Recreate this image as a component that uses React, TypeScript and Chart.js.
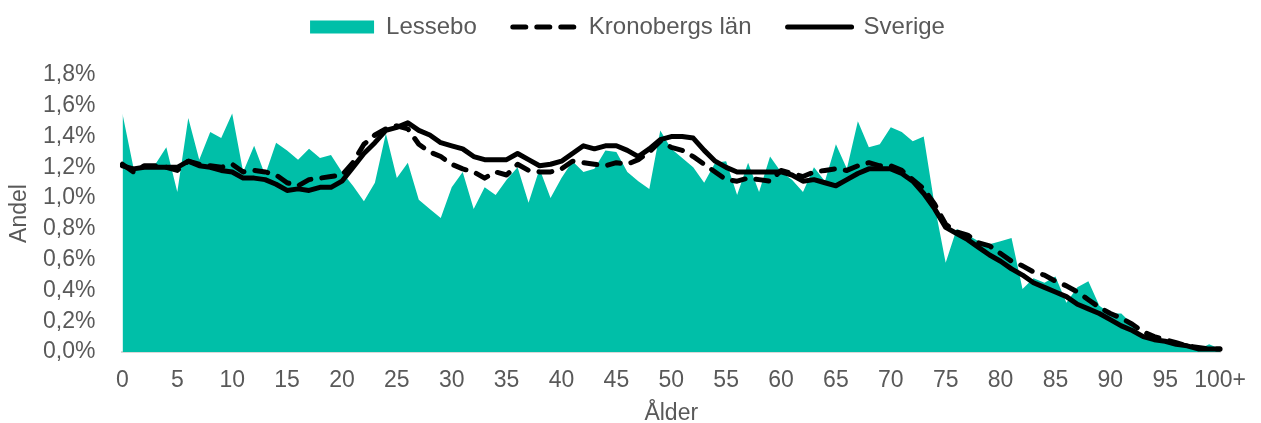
import React, { useEffect, useRef } from "react";
import { Chart, registerables } from "chart.js";

Chart.register(...registerables);

const ages: string[] = Array.from({ length: 101 }, (_, i) => (i === 100 ? "100+" : String(i)));

const lessebo: number[] = [
  1.55, 1.2, 1.2, 1.22, 1.33, 1.04, 1.52, 1.25, 1.43, 1.39,
  1.55, 1.17, 1.34, 1.15, 1.36, 1.31, 1.25, 1.32, 1.26, 1.28,
  1.17, 1.08, 0.98, 1.1, 1.42, 1.13, 1.23, 0.99, 0.93, 0.87,
  1.07, 1.17, 0.93, 1.07, 1.02, 1.12, 1.2, 0.97, 1.19, 1.0,
  1.13, 1.24, 1.17, 1.19, 1.31, 1.3, 1.17, 1.11, 1.06, 1.44,
  1.32, 1.26, 1.2, 1.1, 1.23, 1.24, 1.02, 1.23, 1.04, 1.27,
  1.17, 1.12, 1.04, 1.2, 1.11, 1.35, 1.19, 1.5, 1.33, 1.35,
  1.46, 1.43, 1.37, 1.4, 0.95, 0.58, 0.8, 0.76, 0.72, 0.7,
  0.72, 0.74, 0.41, 0.48, 0.45, 0.49, 0.32, 0.42, 0.46, 0.3,
  0.25, 0.25, 0.18, 0.09, 0.09, 0.08, 0.05, 0.03, 0.015, 0.05,
  0.02,
];

const kronoberg: number[] = [
  1.22, 1.17, 1.21, 1.21, 1.2, 1.18, 1.24, 1.22, 1.21, 1.2,
  1.22, 1.17, 1.18, 1.17, 1.15, 1.1, 1.08, 1.12, 1.13, 1.14,
  1.15, 1.23, 1.35, 1.41, 1.45, 1.47, 1.45, 1.35, 1.3, 1.27,
  1.22, 1.19, 1.17, 1.13, 1.17, 1.15, 1.22, 1.18, 1.17, 1.17,
  1.19, 1.24, 1.23, 1.22, 1.21, 1.23, 1.22, 1.25, 1.3, 1.37,
  1.33, 1.31, 1.27, 1.22, 1.17, 1.12, 1.11, 1.13, 1.12, 1.11,
  1.18, 1.16, 1.14, 1.17, 1.18, 1.19, 1.18, 1.21, 1.23, 1.21,
  1.21, 1.18, 1.12, 1.06, 0.96, 0.83, 0.78, 0.76, 0.71, 0.69,
  0.64, 0.59, 0.56, 0.52, 0.5, 0.46, 0.43, 0.39, 0.34, 0.29,
  0.25, 0.22, 0.18, 0.13, 0.1, 0.08, 0.06, 0.04, 0.03, 0.02,
  0.02,
];

const sverige: number[] = [
  1.21, 1.19, 1.2, 1.2, 1.2, 1.2, 1.24, 1.21, 1.2, 1.18,
  1.17, 1.13, 1.13, 1.12, 1.09, 1.05, 1.06, 1.05, 1.07, 1.07,
  1.11, 1.2, 1.29, 1.36, 1.44, 1.46, 1.49, 1.44, 1.41, 1.36,
  1.34, 1.32, 1.27, 1.25, 1.25, 1.25, 1.29, 1.25, 1.21, 1.22,
  1.24, 1.29, 1.34, 1.32, 1.34, 1.34, 1.31, 1.27, 1.32, 1.38,
  1.4, 1.4, 1.39, 1.31, 1.24, 1.2, 1.17, 1.17, 1.17, 1.17,
  1.17, 1.15, 1.11, 1.12, 1.1, 1.08, 1.12, 1.16, 1.19, 1.19,
  1.19, 1.16, 1.11, 1.03, 0.93, 0.81, 0.77, 0.73, 0.68, 0.63,
  0.59, 0.54, 0.5, 0.45, 0.42, 0.39, 0.36, 0.31, 0.28, 0.25,
  0.21, 0.17, 0.14, 0.1, 0.08, 0.07, 0.05, 0.04, 0.02, 0.02,
  0.02,
];

const seriesNames: string[] = ["Lessebo", "Kronobergs län", "Sverige"];
const yTicks: number[] = [0, 0.2, 0.4, 0.6, 0.8, 1.0, 1.2, 1.4, 1.6, 1.8];

const TEAL = "#00BFA8";
const TEXT = "#595959";
const FONT = "'Liberation Sans', Arial, sans-serif";

const legendSpacer = {
  id: "legendSpacer",
  beforeInit(chart: any) {
    const legend = chart.legend;
    if (!legend) return;
    const orig = legend.fit;
    legend.fit = function () {
      orig.call(this);
      this.height += 26;
    };
  },
  afterLayout(chart: any) {
    const legend = chart.legend;
    if (!legend) return;
    legend.left = -3;
    legend.right = chart.width - 3;
    legend.width = chart.width;
  },
};

export default function App() {
  const ref = useRef<HTMLCanvasElement | null>(null);

  useEffect(() => {
    if (!ref.current) return;
    const chart = new Chart(ref.current, {
      type: "line",
      data: {
        labels: ages,
        datasets: [
          {
            label: seriesNames[0],
            data: lessebo,
            fill: "origin",
            backgroundColor: TEAL,
            borderColor: TEAL,
            borderWidth: 0,
            pointRadius: 0,
            tension: 0,
            order: 3,
          },
          {
            label: seriesNames[1],
            data: kronoberg,
            fill: false,
            backgroundColor: "#000000",
            borderColor: "#000000",
            borderWidth: 5,
            borderDash: [13, 11],
            borderCapStyle: "round",
            borderJoinStyle: "round",
            pointRadius: 0,
            tension: 0,
            order: 2,
          },
          {
            label: seriesNames[2],
            data: sverige,
            fill: false,
            backgroundColor: "#000000",
            borderColor: "#000000",
            borderWidth: 5,
            borderCapStyle: "round",
            borderJoinStyle: "round",
            pointRadius: 0,
            tension: 0,
            order: 1,
          },
        ],
      },
      options: {
        responsive: false,
        animation: false,
        layout: { padding: { top: -21, right: 29, left: 0, bottom: 0 } },
        plugins: {
          tooltip: { enabled: false },
          legend: {
            position: "top",
            align: "center",
            labels: {
              usePointStyle: true,
              pointStyleWidth: 64,
              boxHeight: 13,
              padding: 36,
              color: TEXT,
              font: { family: FONT, size: 24 },
              generateLabels: (c: any) =>
                c.data.datasets.map((ds: any, i: number) => ({
                  text: ds.label,
                  fillStyle: ds.backgroundColor,
                  strokeStyle: ds.borderColor,
                  lineWidth: ds.borderWidth,
                  lineDash: ds.borderDash || [],
                  lineCap: ds.borderCapStyle || "butt",
                  lineJoin: "round",
                  pointStyle: i === 0 ? "rect" : "line",
                  hidden: false,
                  fontColor: TEXT,
                  datasetIndex: i,
                })),
            },
          },
        },
        scales: {
          x: {
            offset: false,
            grid: { display: false, drawTicks: false },
            border: { display: true, color: "#D9D9D9", width: 2 },
            ticks: {
              autoSkip: false,
              maxRotation: 0,
              minRotation: 0,
              padding: 15,
              color: TEXT,
              font: { family: FONT, size: 23 },
              callback: function (this: any, value: any, index: number) {
                return index % 5 === 0 ? ages[index] : null;
              },
            },
            title: {
              display: true,
              text: "Ålder",
              color: TEXT,
              font: { family: FONT, size: 23, lineHeight: 1.0 },
              padding: { top: -7.6, bottom: -2 },
            },
          },
          y: {
            min: 0,
            max: 1.8,
            afterBuildTicks: (axis: any) => {
              axis.ticks = yTicks.map((v) => ({ value: v }));
            },
            grid: { display: false, drawTicks: false },
            border: { display: false },
            ticks: {
              autoSkip: false,
              padding: 27,
              color: TEXT,
              font: { family: FONT, size: 23 },
              callback: (v: any) => Number(v).toFixed(1).replace(".", ",") + "%",
            },
            title: {
              display: true,
              text: "Andel",
              color: TEXT,
              font: { family: FONT, size: 23, lineHeight: 1.0 },
              padding: { top: 8.5, bottom: -15.5 },
            },
          },
        },
      },
      plugins: [legendSpacer],
    } as any);
    return () => chart.destroy();
  }, []);

  return (
    <div style={{ position: "absolute", left: 0, top: 0, width: 1261, height: 423, background: "#fff" }}>
      <canvas ref={ref} width={1261} height={423} style={{ display: "block" }} />
    </div>
  );
}
